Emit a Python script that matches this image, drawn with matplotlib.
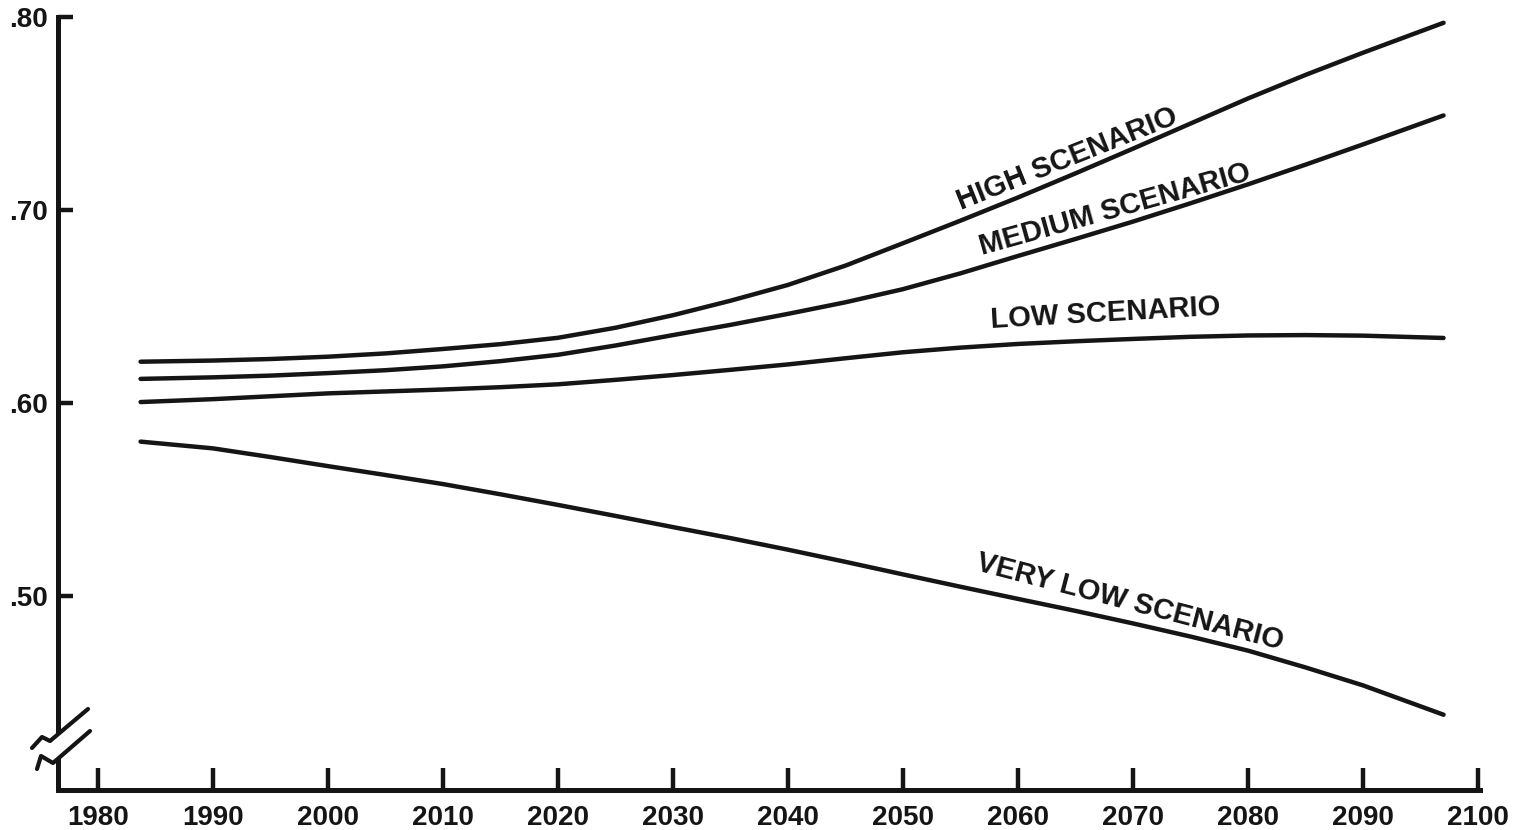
import matplotlib
matplotlib.use("Agg")
import matplotlib.pyplot as plt
from matplotlib.lines import Line2D

# ---- data ----
years = [1983.7, 1990, 1995, 2000, 2005, 2010, 2015, 2020, 2025, 2030, 2035, 2040,
         2045, 2050, 2055, 2060, 2065, 2070, 2075, 2080, 2085, 2090, 2097]
high = [0.6214, 0.6220, 0.6228, 0.6240, 0.6257, 0.6280, 0.6305, 0.6338, 0.6390, 0.6455,
        0.6530, 0.6612, 0.6712, 0.6828, 0.6945, 0.7065, 0.7190, 0.7318, 0.7448, 0.7578,
        0.7700, 0.7815, 0.7970]
medium = [0.6125, 0.6133, 0.6142, 0.6155, 0.6170, 0.6190, 0.6217, 0.6250, 0.6298, 0.6352,
          0.6405, 0.6462, 0.6522, 0.6590, 0.6672, 0.6762, 0.6850, 0.6940, 0.7035, 0.7133,
          0.7235, 0.7340, 0.7490]
low = [0.6005, 0.6020, 0.6035, 0.6050, 0.6060, 0.6070, 0.6082, 0.6097, 0.6120, 0.6145,
       0.6172, 0.6200, 0.6232, 0.6263, 0.6287, 0.6306, 0.6320, 0.6332, 0.6343, 0.6350,
       0.6352, 0.6349, 0.6337]
very_low = [0.5800, 0.5765, 0.5720, 0.5673, 0.5627, 0.5580, 0.5527, 0.5472, 0.5415, 0.5357,
            0.5300, 0.5240, 0.5177, 0.5112, 0.5048, 0.4985, 0.4923, 0.4858, 0.4790, 0.4717,
            0.4630, 0.4537, 0.4385]

x_ticks = [1980, 1990, 2000, 2010, 2020, 2030, 2040, 2050, 2060, 2070, 2080, 2090, 2100]
y_ticks = [0.50, 0.60, 0.70, 0.80]
y_tick_labels = [".50", ".60", ".70", ".80"]

labels = ["HIGH SCENARIO", "MEDIUM SCENARIO", "LOW SCENARIO", "VERY LOW SCENARIO"]
label_pos = [(2064.3, 0.7265), (2068.4, 0.7003), (2067.6, 0.6463), (2069.7, 0.4966)]
label_rot = [21.8, 15.6, 3.3, -14.6]

# ---- style ----
plt.rcParams["font.family"] = ["Liberation Sans", "DejaVu Sans"]
plt.rcParams["font.weight"] = "bold"
INK = "#151515"

W, H = 1517, 830
fig = plt.figure(figsize=(W / 100, H / 100), dpi=100)
fig.patch.set_facecolor("white")

ax_left, ax_right, ax_top, ax_bottom = 58, 1480, 17, 790
ax = fig.add_axes([ax_left / W, (H - ax_bottom) / H,
                   (ax_right - ax_left) / W, (ax_bottom - ax_top) / H])
ax.set_facecolor("none")

ax.set_xlim(1976.52, 2100.17)
ax.set_ylim(0.3995, 0.80)

for series in (high, medium, low, very_low):
    ax.plot(years, series, color=INK, lw=3.2, solid_capstyle="round",
            solid_joinstyle="round")

for txt, (tx, ty), rot in zip(labels, label_pos, label_rot):
    ax.text(tx, ty, txt, rotation=rot, rotation_mode="anchor",
            ha="center", va="center", fontsize=21, fontweight="bold", color=INK)

# spines
for s in ("top", "right"):
    ax.spines[s].set_visible(False)
for s in ("left", "bottom"):
    ax.spines[s].set_linewidth(3.6)
    ax.spines[s].set_color(INK)

# break in the y axis
break_top_val = 0.6 - (730 - 403) / 1930
break_bot_val = 0.6 - (758 - 403) / 1930
ax.spines["left"].set_bounds(break_top_val, 0.80)
ax.add_line(Line2D([0, 0], [0.3995, break_bot_val], transform=ax.get_yaxis_transform(),
                   color=INK, lw=3.6, clip_on=False, solid_capstyle="butt"))

def fig_pts(pts):
    xs = [p[0] / W for p in pts]
    ys = [1 - p[1] / H for p in pts]
    return xs, ys

mark1 = [(32, 748), (42, 737), (50, 741), (88, 709)]
mark2 = [(37, 769), (41, 756), (53, 763), (90, 731)]
for m in (mark1, mark2):
    xs, ys = fig_pts(m)
    fig.add_artist(Line2D(xs, ys, transform=fig.transFigure, color=INK, lw=3.0,
                          solid_capstyle="round", solid_joinstyle="round"))

# ticks
ax.set_xticks(x_ticks)
ax.set_xticklabels([str(v) for v in x_ticks])
ax.set_yticks(y_ticks)
ax.set_yticklabels(y_tick_labels)
ax.tick_params(axis="x", direction="in", length=16, width=3.2, pad=10.5,
               labelsize=20, colors=INK)
ax.tick_params(axis="y", direction="in", length=11, width=3.2, pad=7,
               labelsize=20, colors=INK)
for lab in ax.get_xticklabels() + ax.get_yticklabels():
    lab.set_fontweight("bold")

fig.savefig("out.png", dpi=100, facecolor="white")
